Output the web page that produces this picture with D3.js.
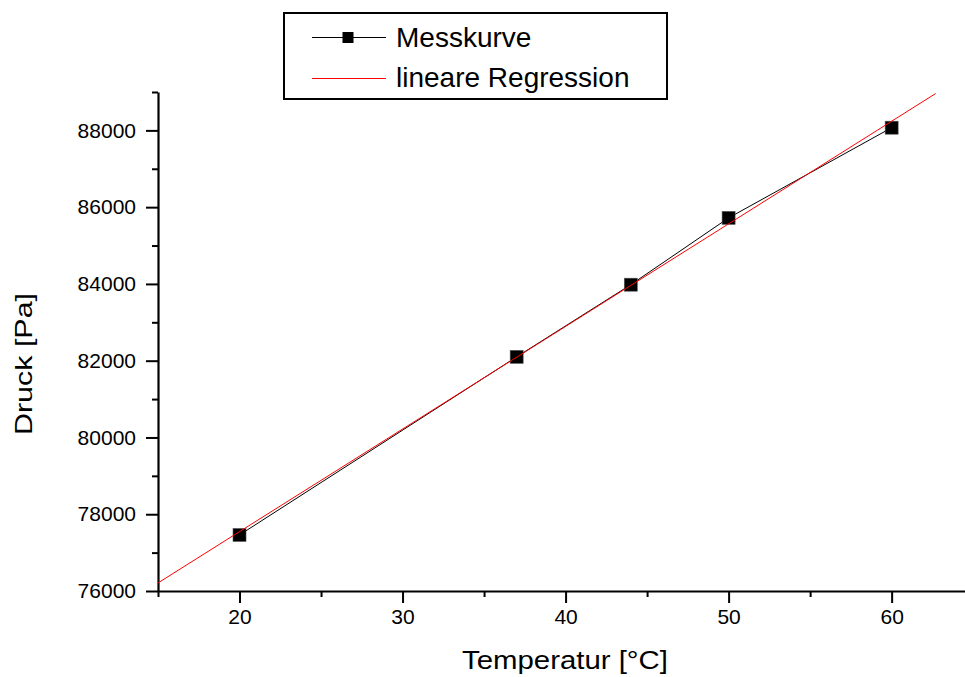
<!DOCTYPE html>
<html>
<head>
<meta charset="utf-8">
<script src="https://cdn.jsdelivr.net/npm/d3@7"></script>
<style>
  html, body { margin: 0; padding: 0; background: #fff; }
  svg { display: block; font-family: Arial, "Liberation Sans", sans-serif; }
</style>
</head>
<body>
<svg id="chart" width="965" height="677"></svg>
<script>
// ---- data ----
const temps = [20, 37, 44, 50, 60];
const pressures = [77460, 82100, 83980, 85720, 88070];
const regT = [15, 62.7];
const regP = [76210, 88960];
const xMajorTicks = [20, 30, 40, 50, 60];
const xMinorTicks = [15, 25, 35, 45, 55];
const yMajorTicks = [76000, 78000, 80000, 82000, 84000, 86000, 88000];
const yMinorTicks = [77000, 79000, 81000, 83000, 85000, 87000, 89000];
const seriesNames = ["Messkurve", "lineare Regression"];
const xTitle = "Temperatur [°C]";
const yTitle = "Druck [Pa]";

const svg = d3.select("#chart");
const x = d3.scaleLinear().domain([15, 64.5]).range([158, 965]);
const y = d3.scaleLinear().domain([76000, 89000]).range([591, 92]);

// axes
const xAxisMinor = svg.append("g").attr("transform", "translate(0,591)")
  .call(d3.axisBottom(x).tickValues(xMinorTicks).tickSize(6).tickSizeOuter(0).tickFormat(""));
xAxisMinor.select(".domain").remove();
svg.append("g").attr("transform", "translate(0,591)")
  .call(d3.axisBottom(x).tickValues(xMajorTicks).tickSize(12).tickSizeOuter(0).tickPadding(6).tickFormat(d3.format("d")));

const yAxisMinor = svg.append("g").attr("transform", "translate(158,0)")
  .call(d3.axisLeft(y).tickValues(yMinorTicks).tickSize(6).tickSizeOuter(0).tickFormat(""));
yAxisMinor.select(".domain").remove();
svg.append("g").attr("transform", "translate(158,0)")
  .call(d3.axisLeft(y).tickValues(yMajorTicks).tickSize(12).tickSizeOuter(0).tickPadding(10).tickFormat(d3.format("d")));

svg.selectAll(".domain").attr("stroke", "#000").attr("stroke-width", 2.2);
svg.selectAll(".tick line").attr("stroke", "#000").attr("stroke-width", 2);
svg.selectAll(".tick text").attr("font-size", 21).attr("fill", "#000")
  .attr("font-family", "Arial, 'Liberation Sans', sans-serif");

// axis titles
svg.append("text").attr("x", 462).attr("y", 669)
  .attr("font-size", 25).attr("textLength", 206).attr("lengthAdjust", "spacingAndGlyphs")
  .text(xTitle);
svg.append("text").attr("transform", "translate(32,435) rotate(-90)")
  .attr("font-size", 24).attr("textLength", 142).attr("lengthAdjust", "spacingAndGlyphs")
  .text(yTitle);

const line = d3.line().x(d => x(d[0])).y(d => y(d[1]));
const regData = regT.map((t, i) => [t, regP[i]]);
const measData = temps.map((t, i) => [t, pressures[i]]);

// measured curve
svg.append("path").datum(measData).attr("d", line)
  .attr("fill", "none").attr("stroke", "#000").attr("stroke-width", 1);
const ms = 13;
svg.selectAll("rect.marker").data(measData).enter().append("rect")
  .attr("class", "marker")
  .attr("x", d => x(d[0]) - ms / 2).attr("y", d => y(d[1]) - ms / 2)
  .attr("width", ms).attr("height", ms)
  .attr("fill", "#000").attr("stroke", "#555").attr("stroke-width", 0.6);

// regression line (drawn over the markers, as in the reference)
svg.append("path").datum(regData).attr("d", line)
  .attr("fill", "none").attr("stroke", "#ff0000").attr("stroke-width", 1);

// legend
const lg = svg.append("g");
lg.append("rect").attr("x", 284).attr("y", 13).attr("width", 383).attr("height", 86)
  .attr("fill", "#fff").attr("stroke", "#000").attr("stroke-width", 2);
lg.append("line").attr("x1", 312).attr("x2", 386).attr("y1", 37.5).attr("y2", 37.5)
  .attr("stroke", "#000").attr("stroke-width", 1);
lg.append("rect").attr("x", 348 - 5.5).attr("y", 37.5 - 5.5).attr("width", 11).attr("height", 11)
  .attr("fill", "#000");
lg.append("text").attr("x", 396).attr("y", 47).attr("font-size", 28).attr("fill", "#000").text(seriesNames[0]);
lg.append("line").attr("x1", 312).attr("x2", 386).attr("y1", 78.5).attr("y2", 78.5)
  .attr("stroke", "#ff0000").attr("stroke-width", 1);
lg.append("text").attr("x", 396).attr("y", 87).attr("font-size", 28).attr("fill", "#000").text(seriesNames[1]);
</script>
</body>
</html>
